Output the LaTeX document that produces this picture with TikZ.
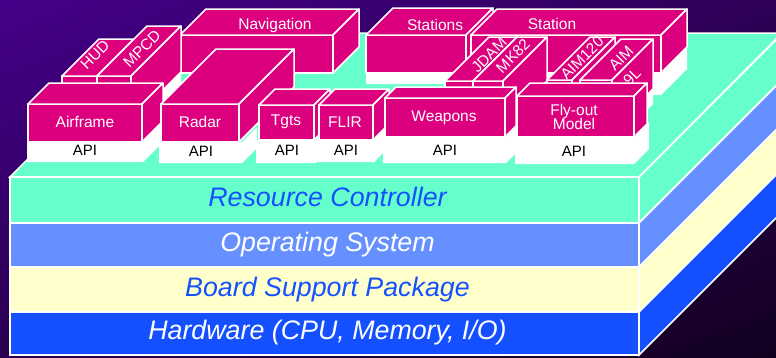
\documentclass[tikz,border=0pt]{standalone}
\usepackage{fontspec}
\setmainfont{Liberation Sans}
\usepackage{tikz}
\usetikzlibrary{shadings}

\definecolor{mint}{HTML}{66FFCC}
\definecolor{periwinkle}{HTML}{6690FF}
\definecolor{cream}{HTML}{FFFFCC}
\definecolor{royal}{HTML}{1450FF}
\definecolor{boxpink}{HTML}{DC007E}
\definecolor{bgA}{HTML}{46008A}
\definecolor{bgB}{HTML}{2E0058}
\definecolor{bgC}{HTML}{2A0050}
\definecolor{bgD}{HTML}{120020}

\tikzset{
  layer/.style={draw=white, line width=1.5pt},
  cubeface/.style={fill=boxpink, draw=white, line width=1.5pt, line join=round},
  apibase/.style={fill=white, draw=none},
  boxlabel/.style={text=white, font=\fontsize{15.5}{15}\selectfont, inner sep=0pt, align=center},
  apilabel/.style={text=black, font=\fontsize{15}{15}\selectfont, inner sep=0pt, anchor=base},
  layerlabel/.style={font=\fontsize{26.8}{27}\selectfont\itshape, inner sep=0pt, anchor=base}
}

% x1, y1, x2, y2, depth
\newcommand{\cubebox}[5]{
  \draw[cubeface] (#1,#2) rectangle (#3,#4);
  \draw[cubeface] (#1,#2) -- ++(#5,-#5) -- ++(#3-#1,0) -- (#3,#2) -- cycle;
  \draw[cubeface] (#3,#2) -- ++(#5,-#5) -- ++(0,#4-#2) -- (#3,#4) -- cycle;
}
% x1, y1, x2, y2, depth
\newcommand{\whitebase}[5]{
  \fill[apibase] (#1,#2) -- (#1,#4) -- (#3,#4) -- ++(#5,-#5) -- ++(0,#2-#4) -- (#3,#2) -- cycle;
}
% y1, y2, colour
\newcommand{\slab}[3]{
  \draw[layer, fill=#3] (639,#1) -- ++(143,-143) -- ++(0,#2-#1) -- (639,#2) -- cycle;
  \draw[layer, fill=#3] (10,#1) rectangle (639,#2);
}

\begin{document}
\begin{tikzpicture}[x=1pt, y=-1pt]
  \useasboundingbox (0,0) rectangle (776,357);
  \clip (0,0) rectangle (776,357);

  % fundo
  \shade[upper left=bgA, upper right=bgB, lower left=bgC, lower right=bgD] (0,0) rectangle (776,357);

  % camadas
  \draw[layer, fill=mint] (10,177) -- (153,33) -- (782,33) -- (639,177) -- cycle;
  \slab{177}{223}{mint}
  \slab{223}{267}{periwinkle}
  \slab{267}{312}{cream}
  \slab{312}{355}{royal}
  \node[layerlabel, text=royal] (resource) at (327.5,206) {Resource Controller};
  \node[layerlabel, text=white] (os) at (327.5,251) {Operating System};
  \node[layerlabel, text=royal] (bsp) at (327.5,296) {Board Support Package};
  \node[layerlabel, text=white] (hardware) at (327.5,339) {Hardware (CPU, Memory, I/O)};

  % fileira de tras
  \cubebox{180}{35}{333}{73}{26}
  \node[boxlabel] (navigation) at (275,25) {Navigation};
  \whitebase{366}{73}{466}{84}{12}
  \cubebox{366}{35}{466}{73}{27}
  \node[boxlabel] (stations) at (435,25) {Stations};
  \whitebase{471}{73}{661}{95}{26}
  \cubebox{471}{35}{661}{73}{26}
  \node[boxlabel] (station) at (552,24) {Station};

  % HUD e MPCD
  \cubebox{62}{76}{97}{120}{37}
  \node[boxlabel, rotate=45] (hud) at (95,55) {HUD};
  \whitebase{97}{122}{131}{135}{50}
  \cubebox{97}{76}{131}{122}{50}
  \node[boxlabel, rotate=45] (mpcd) at (142,49) {MPCD};

  % armas
  \cubebox{445}{81}{473}{125}{44}
  \node[boxlabel, rotate=45] (jdam) at (489,55) {JDAM};
  \cubebox{473}{81}{503}{125}{44}
  \node[boxlabel, rotate=45] (mk) at (513,56) {MK82};
  \cubebox{547}{80}{572}{125}{43}
  \node[boxlabel, rotate=45] (aimA) at (582,58) {AIM120};
  \whitebase{580}{130}{612}{145}{41}
  \cubebox{580}{80}{612}{130}{41}
  \node[boxlabel, rotate=45] (aimB) at (621,58) {AIM};
  \node[boxlabel, rotate=45] (aimC) at (632,77) {9L};

  % fileira da frente
  \whitebase{27}{142}{143}{162}{17}
  \cubebox{28}{104}{142}{142}{21}
  \node[boxlabel] (airframe) at (85,122) {Airframe};
  \node[apilabel] (apiA) at (85,155) {API};

  \whitebase{159}{142}{242}{163}{15}
  \cubebox{161}{104}{239}{142}{55}
  \node[boxlabel] (radar) at (200,122) {Radar};
  \node[apilabel] (apiB) at (201,156) {API};

  \whitebase{256}{140}{316}{163}{15}
  \cubebox{259}{105}{314}{140}{16}
  \node[boxlabel] (tgts) at (286,122) {Tgts};
  \node[apilabel] (apiC) at (287,155) {API};

  \whitebase{318}{140}{374}{162}{15}
  \cubebox{319}{105}{373}{140}{16}
  \node[boxlabel] (flir) at (345,122) {FLIR};
  \node[apilabel] (apiD) at (346,155) {API};

  \whitebase{383}{137}{506}{163}{10}
  \cubebox{385}{98}{505}{137}{11}
  \node[boxlabel] (weapons) at (444,118) {Weapons};
  \node[apilabel] (apiE) at (445,155) {API};

  \whitebase{515}{137}{634}{164}{15}
  \cubebox{517}{96}{634}{137}{13}
  \node[boxlabel] (flyout) at (574,117) {Fly-out\\[-1pt]Model};
  \node[apilabel] (apiF) at (574,156) {API};
\end{tikzpicture}
\end{document}
